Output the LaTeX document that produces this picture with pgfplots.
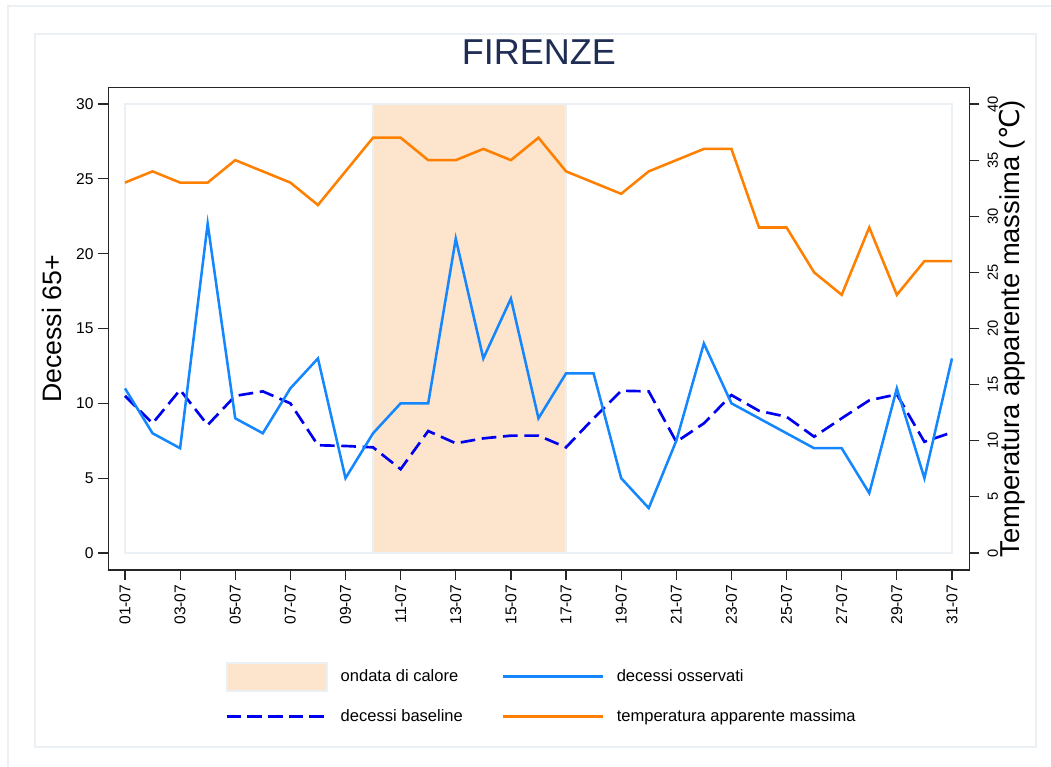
\documentclass[border=0pt]{standalone}
\usepackage{fontspec}
\setmainfont{Liberation Sans}
\newfontfamily\dejavu{DejaVu Sans}
\usepackage{pgfplots}
\pgfplotsset{compat=1.18}
\usepackage{pgfplotstable}

\definecolor{obs}{RGB}{20,135,255}
\definecolor{base}{RGB}{0,0,240}
\definecolor{temp}{RGB}{255,128,0}
\definecolor{heat}{RGB}{253,228,204}
\definecolor{frame}{RGB}{234,240,243}
\definecolor{titlec}{RGB}{31,45,85}

\pgfplotsset{
 leglinesty/.style={legend image code/.code={\draw[##1] (0pt,0pt) -- (75pt,0pt);}},
 legareasty/.style={legend image code/.code={\draw[##1] (0pt,-10.5pt) rectangle (75pt,10.5pt);}},
}

\pgfplotstableread{
day obs base temp
1 11 10.5 33
2 8 8.66 34
3 7 10.9 33
4 22 8.55 33
5 9 10.5 35
6 8 10.8 34
7 11 10.0 33
8 13 7.2 31
9 5 7.15 34
10 8 7.06 37
11 10 5.6 37
12 10 8.15 35
13 21 7.33 35
14 13 7.66 36
15 17 7.84 35
16 9 7.84 37
17 12 7.06 34
18 12 9.0 33
19 5 10.84 32
20 3 10.8 34
21 7.5 7.43 35
22 14 8.66 36
23 10 10.55 36
24 9 9.5 29
25 8 9.1 29
26 7 7.77 25
27 7 9.0 23
28 4 10.2 29
29 11 10.6 23
30 5 7.43 26
31 13 8.06 26
}\data

\begin{document}
\begin{tikzpicture}
\useasboundingbox (0,0) rectangle (788.25pt,575.25pt);
\draw[frame, line width=1.5pt] (6pt,0) -- (6pt,570.75pt) -- (788.25pt,570.75pt);
\draw[frame, line width=1.5pt] (26.25pt,15pt) rectangle (777pt,549.75pt);

\begin{axis}[
 at={(81.2pt,147.75pt)}, anchor=south west,
 scale only axis, width=645.9pt, height=361.7pt,
 xmin=0.394, xmax=31.635, ymin=-1.136, ymax=31.089,
 axis line style={line width=1pt, color=black!85},
 tick align=outside, major tick length=7.5pt,
 tick style={line width=0.9pt, color=black!85},
 xtick={1,3,...,31},
 xticklabels={01-07,03-07,05-07,07-07,09-07,11-07,13-07,15-07,17-07,19-07,21-07,23-07,25-07,27-07,29-07,31-07},
 xticklabel style={rotate=90, anchor=east, font=\fontsize{11.7pt}{13pt}\selectfont},
 xtick pos=bottom, ytick pos=left,
 ytick={0,5,...,30},
 yticklabel style={font=\fontsize{11.7pt}{13pt}\selectfont},
 /pgf/number format/assume math mode=true,
 ylabel={Decessi 65+},
 ylabel style={at={(axis description cs:-0.065,0.5)}, anchor=center, font=\fontsize{20pt}{22pt}\selectfont},
 title={FIRENZE},
 title style={at={(axis description cs:0.5,1)}, anchor=base, yshift=11.75pt, font=\fontsize{27pt}{30pt}\selectfont, color=titlec},
 legend columns=2,
 legend cell align=left,
 legend style={at={(axis description cs:0.131,-0.184)}, anchor=north west, draw=none, fill=none,
   font=\fontsize{12.4pt}{14pt}\selectfont,
   /tikz/every odd column/.append style={column sep=7.5pt},
   /tikz/every even column/.append style={column sep=27pt},
   row sep=11.5pt},
]
\draw[frame, line width=1.2pt] (axis cs:1,0) rectangle (axis cs:31,30);
\addplot[fill=heat, draw=frame, line width=1.5pt, forget plot] coordinates {(10,0) (10,30) (17,30) (17,0)} -- cycle;
\addplot[base, line width=2pt, dash pattern=on 11pt off 5pt, forget plot] table[x=day, y=base] {\data};
\addplot[obs, line width=1.9pt, forget plot] table[x=day, y=obs] {\data};

\addlegendimage{legareasty, fill=heat, draw=frame, line width=1.5pt}
\addlegendentry{ondata di calore}
\addlegendimage{leglinesty, obs, line width=1.9pt}
\addlegendentry{decessi osservati}
\addlegendimage{leglinesty, base, line width=2pt, dash pattern=on 11pt off 4.5pt}
\addlegendentry{decessi baseline}
\addlegendimage{leglinesty, temp, line width=1.9pt}
\addlegendentry{temperatura apparente massima}
\end{axis}

\begin{axis}[
 at={(81.2pt,147.75pt)}, anchor=south west,
 scale only axis, width=645.9pt, height=361.7pt,
 xmin=0.394, xmax=31.635, ymin=-1.514, ymax=41.452,
 axis x line=none, axis y line*=right,
 axis line style={line width=1pt, color=black!85},
 tick align=outside, major tick length=7.5pt,
 tick style={line width=0.9pt, color=black!85},
 ytick={0,5,...,40},
 yticklabel style={rotate=90, anchor=north, inner sep=6pt, font=\fontsize{11pt}{12pt}\selectfont},
 /pgf/number format/assume math mode=true,
 ylabel={Temperatura apparente massima ({\dejavu ℃})},
 ylabel style={at={(axis description cs:1.05,0.5)}, anchor=center, rotate=0, font=\fontsize{20.5pt}{22pt}\selectfont},
]
\addplot[temp, line width=1.9pt] table[x=day, y=temp] {\data};
\end{axis}
\end{tikzpicture}
\end{document}
